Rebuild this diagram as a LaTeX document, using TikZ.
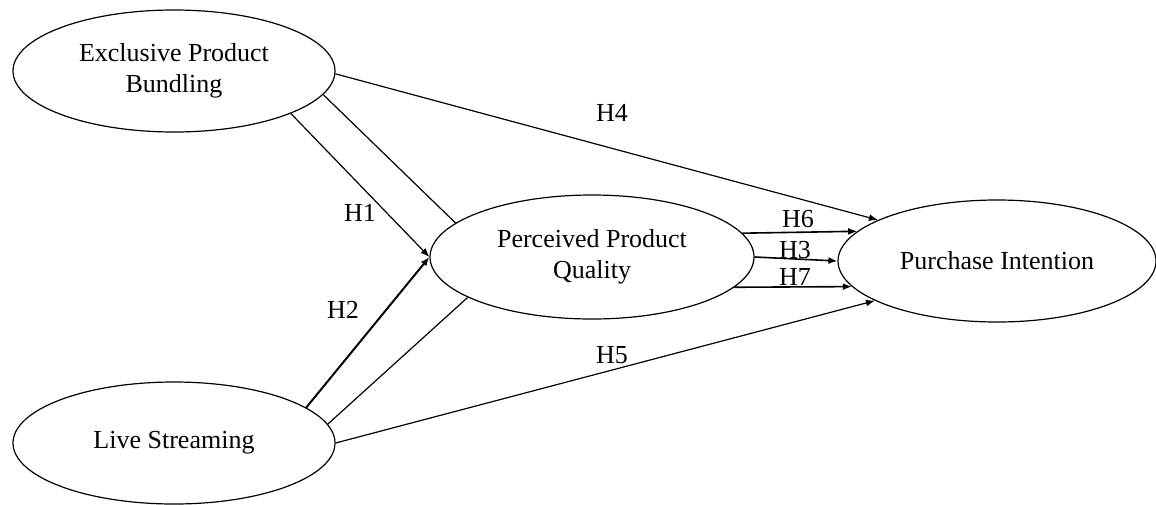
\documentclass[tikz,border=0pt]{standalone}
\usepackage{fontspec}
\setmainfont{Liberation Serif}
\usetikzlibrary{shapes.geometric,arrows.meta}
\begin{document}
\begin{tikzpicture}[x=1pt,y=-1pt,
  construct/.style={draw, ellipse, line width=1.2pt, inner sep=0pt, align=center,
    minimum width=322pt, minimum height=122pt, font=\fontsize{26}{31}\selectfont},
  conn/.style={line width=1.2pt},
  arr/.style={conn, -{Latex[length=9pt,width=7pt]}},
  lab/.style={font=\fontsize{26}{31}\selectfont, inner sep=0pt}
]
\useasboundingbox (0,0) rectangle (1156,504);
\node[construct] (EPB) at (174,71) {Exclusive Product\\Bundling};
\node[construct] (LS) at (174,443) {Live Streaming};
\node[construct, minimum width=324pt, minimum height=124pt] (PPQ) at (592,257) {Perceived Product\\Quality};
\node[construct, minimum width=318pt] (PI) at (997,261) {Purchase Intention};

\draw[arr] (EPB.-1) -- (PI.161);
\draw[arr] (EPB.-20) -- (PPQ.west);
\draw[conn] (EPB.-9) -- (PPQ.166);
\draw[arr, line width=2pt] (LS.15.4) -- (PPQ.west);
\draw[conn] (LS.7.4) -- (PPQ.198.6);
\draw[arr] (LS.east) -- (PI.198.9);
\draw[arr, line width=1.6pt] (PPQ.9.6) -- (PI.168.8);
\draw[arr, line width=1.6pt] (PPQ.east) -- (PI.west);
\draw[arr, line width=1.6pt] (PPQ.-12.9) -- (PI.190.8);

\node[lab] (h1) at (360,213) {H1};
\node[lab] (h2) at (343,310) {H2};
\node[lab] (h4) at (612,113) {H4};
\node[lab] (h5) at (612,355) {H5};
\node[lab] (h6) at (798,219) {H6};
\node[lab] (h3) at (795,250) {H3};
\node[lab] (h7) at (795,277) {H7};
\end{tikzpicture}
\end{document}
